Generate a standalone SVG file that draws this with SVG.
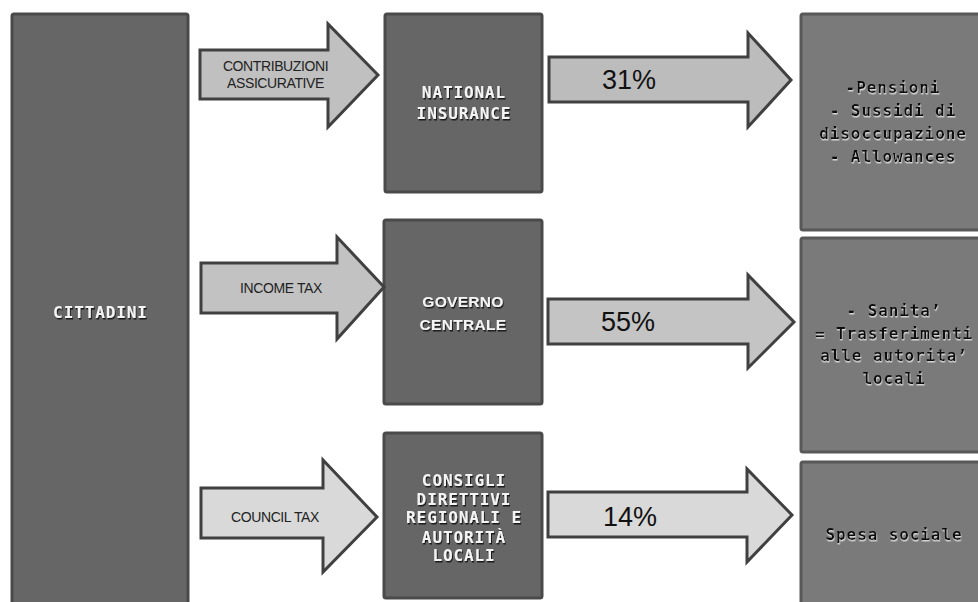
<svg xmlns="http://www.w3.org/2000/svg" width="978" height="602" viewBox="0 0 978 602">
  <defs>
    <filter id="shadowDark" x="-10%" y="-30%" width="120%" height="160%">
      <feDropShadow dx="1" dy="1.5" stdDeviation="0.6" flood-color="#000" flood-opacity="0.75"/>
    </filter>
    <filter id="shadowLight" x="-10%" y="-30%" width="120%" height="160%">
      <feDropShadow dx="0.5" dy="1.5" stdDeviation="0.5" flood-color="#fff" flood-opacity="0.7"/>
    </filter>
  </defs>
  <style>
    .dark { fill: #666666; stroke: #4a4a4a; stroke-width: 3; }
    .out { fill: #7a7a7a; stroke: #585858; stroke-width: 3; }
    .arrow { stroke: #404040; stroke-width: 3; stroke-linejoin: miter; }
    .mono { font-family: "DejaVu Sans Mono", "Liberation Mono", monospace; font-weight: bold; font-size: 16px; letter-spacing: 0.9px; text-anchor: middle; }
    .white { fill: #f4f4f4; filter: url(#shadowDark); }
    .black { fill: #111; filter: url(#shadowLight); }
    .sansb { font-family: "Liberation Sans", Arial, sans-serif; font-weight: bold; font-size: 15.5px; letter-spacing: 0.3px; text-anchor: middle; }
    .lbl { font-family: "Liberation Sans", Arial, sans-serif; font-size: 14px; letter-spacing: -0.4px; fill: #222; text-anchor: middle; }
    .pct { font-family: "Liberation Sans", Arial, sans-serif; font-size: 27px; fill: #111; }
  </style>

  <!-- source node -->
  <g id="cittadini">
    <rect class="dark" x="12" y="14" width="176" height="600" rx="2"/>
    <text class="mono white" x="100.5" y="317.5">CITTADINI</text>
  </g>

  <!-- collecting bodies -->
  <g id="national-insurance">
    <rect class="dark" x="385" y="14" width="157" height="178" rx="2"/>
    <text class="mono white" x="464" y="97.5">NATIONAL</text>
    <text class="mono white" x="464" y="118.5">INSURANCE</text>
  </g>
  <g id="governo-centrale">
    <rect class="dark" x="384" y="220" width="158" height="184" rx="2"/>
    <text class="sansb white" x="463" y="307">GOVERNO</text>
    <text class="sansb white" x="463" y="330">CENTRALE</text>
  </g>
  <g id="consigli">
    <rect class="dark" x="384" y="433" width="158" height="165" rx="2"/>
    <text class="mono white" x="464" y="486">CONSIGLI</text>
    <text class="mono white" x="464" y="504.5">DIRETTIVI</text>
    <text class="mono white" x="464" y="523">REGIONALI E</text>
    <text class="mono white" x="464" y="542.5">AUTORITÀ</text>
    <text class="mono white" x="464" y="561">LOCALI</text>
  </g>

  <!-- spending areas -->
  <g id="spesa-ni">
    <rect class="out" x="801" y="14" width="184" height="216" rx="2"/>
    <text class="mono black" x="893" y="93">-Pensioni</text>
    <text class="mono black" x="893" y="116">- Sussidi di</text>
    <text class="mono black" x="893" y="139">disoccupazione</text>
    <text class="mono black" x="893" y="162">- Allowances</text>
  </g>
  <g id="spesa-governo">
    <rect class="out" x="801" y="238" width="184" height="214" rx="2"/>
    <text class="mono black" x="894" y="316">- Sanita’</text>
    <text class="mono black" x="894" y="338.5">= Trasferimenti</text>
    <text class="mono black" x="894" y="361">alle autorita’</text>
    <text class="mono black" x="894" y="383.5">locali</text>
  </g>
  <g id="spesa-sociale">
    <rect class="out" x="801" y="462" width="184" height="150" rx="2"/>
    <text class="mono black" x="894" y="540">Spesa sociale</text>
  </g>

  <!-- connectors: block arrows -->
  <g id="connectors">
    <polygon class="arrow" fill="#c0c0c0" points="200,50 328,50 328,24 378,75 328,127 328,99 200,99"/>
    <text class="lbl" x="275.5" y="71">CONTRIBUZIONI</text>
    <text class="lbl" x="275.5" y="88">ASSICURATIVE</text>

    <polygon class="arrow" fill="#bcbcbc" points="549,57 748,57 748,33 791,80 748,127 748,102 549,102"/>
    <text class="pct" x="602" y="88.5">31%</text>

    <polygon class="arrow" fill="#c2c2c2" points="201,263 337,263 337,237 384,287 337,339 337,313 201,313"/>
    <text class="lbl" x="281" y="293">INCOME TAX</text>

    <polygon class="arrow" fill="#c4c4c4" points="548,299 748,299 748,275 794,322 748,368 748,344 548,344"/>
    <text class="pct" x="601" y="331">55%</text>

    <polygon class="arrow" fill="#d9d9d9" points="201,488 323,488 323,460 377,517 323,572 323,538 201,538"/>
    <text class="lbl" x="275" y="522">COUNCIL TAX</text>

    <polygon class="arrow" fill="#d9d9d9" points="548,492 747,492 747,469 792,515 747,562 747,537 548,537"/>
    <text class="pct" x="603" y="526">14%</text>
  </g>
</svg>
